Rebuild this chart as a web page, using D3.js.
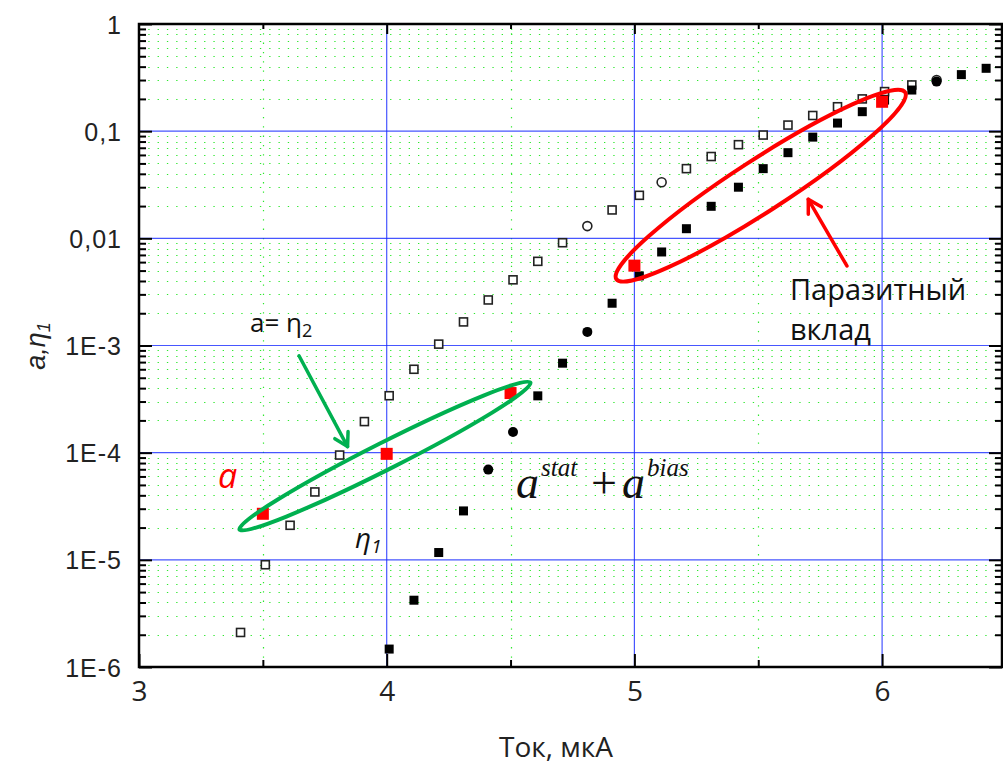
<!DOCTYPE html>
<html>
<head>
<meta charset="utf-8">
<script src="https://d3js.org/d3.v7.min.js"></script>
<style>
  body { margin: 0; background: #fff; }
  svg { display: block; }
</style>
</head>
<body>
<svg width="1003" height="770"></svg>
<script>
  // open markers (squares, a few circles)
  const openX = [3.41, 3.51, 3.61, 3.71, 3.81, 3.91, 4.01, 4.11, 4.21, 4.31, 4.41, 4.51, 4.61, 4.71, 4.81,
                 4.91, 5.02, 5.11, 5.21, 5.31, 5.42, 5.52, 5.62, 5.72, 5.82, 5.92, 6.01, 6.12, 6.22];
  const openY = [2.1e-6, 9.0e-6, 2.1e-5, 4.3e-5, 9.5e-5, 1.95e-4, 3.4e-4, 6.0e-4, 1.03e-3, 1.66e-3, 2.66e-3,
                 4.1e-3, 6.1e-3, 9.1e-3, 0.013, 0.0184, 0.0252, 0.0334, 0.0447, 0.058, 0.0748, 0.092, 0.114,
                 0.14, 0.169, 0.2, 0.234, 0.27, 0.30];
  const openShape = ["s","s","s","s","s","s","s","s","s","s","s","s","s","s","c",
                     "s","s","c","s","s","s","s","s","s","s","s","s","s","c"];

  // filled markers
  const fillX = [4.01, 4.11, 4.21, 4.31, 4.41, 4.51, 4.61, 4.71, 4.81, 4.91, 5.02, 5.11, 5.21, 5.31, 5.42,
                 5.52, 5.62, 5.72, 5.82, 5.92, 6.01, 6.12, 6.22, 6.32, 6.42];
  const fillY = [1.47e-6, 4.2e-6, 1.17e-5, 2.86e-5, 6.95e-5, 1.56e-4, 3.39e-4, 6.84e-4, 1.34e-3, 2.48e-3,
                 4.46e-3, 7.46e-3, 0.0123, 0.0199, 0.030, 0.0447, 0.063, 0.088, 0.119, 0.152, 0.195, 0.242,
                 0.290, 0.337, 0.386];
  const fillShape = ["s","s","s","s","c","c","s","s","c","s","s","s","s","s","s",
                     "s","s","s","s","s","s","s","c","s","s"];

  // red points "a"
  const redX = [3.5, 4.0, 4.5, 5.0, 6.0];
  const redY = [2.69e-5, 9.75e-5, 3.6e-4, 5.56e-3, 0.188];

  const xTicks = [3, 4, 5, 6];
  const xMinorTicks = [3.5, 4.5, 5.5];
  const yTicks = [1, 0.1, 0.01, 1e-3, 1e-4, 1e-5, 1e-6];
  const yTickLabels = ["1", "0,1", "0,01", "1E-3", "1E-4", "1E-5", "1E-6"];

  const svg = d3.select("svg");
  const pLeft = 139, pRight = 1002, pTop = 24, pBottom = 667;

  const x = d3.scaleLinear().domain([3, 3 + (1003 - pLeft) / 247.7]).range([pLeft, 1003]);
  const y = d3.scaleLog().domain([1e-6, 1]).range([pBottom, pTop]);

  const yMinor = [];
  for (let e = -6; e < 0; e++) for (let k = 2; k <= 9; k++) yMinor.push(k * Math.pow(10, e));

  // minor dotted green grid
  const grid = svg.append("g");
  grid.selectAll(".hmin").data(yMinor).enter().append("line")
    .attr("x1", pLeft).attr("x2", pRight)
    .attr("y1", d => Math.round(y(d)) + 0.5).attr("y2", d => Math.round(y(d)) + 0.5)
    .attr("stroke", "#2ee82e").attr("stroke-width", 1.2).attr("stroke-dasharray", "1.3,8");
  grid.selectAll(".vmin").data(xMinorTicks).enter().append("line")
    .attr("x1", d => Math.round(x(d)) + 0.5).attr("x2", d => Math.round(x(d)) + 0.5)
    .attr("y1", pTop).attr("y2", pBottom)
    .attr("stroke", "#2ee82e").attr("stroke-width", 1.2).attr("stroke-dasharray", "1.3,8");

  // major blue grid
  grid.selectAll(".hmaj").data(yTicks.slice(1, -1)).enter().append("line")
    .attr("x1", pLeft).attr("x2", pRight)
    .attr("y1", d => y(d)).attr("y2", d => y(d))
    .attr("stroke", "#1a2cff").attr("stroke-width", 1.2).attr("opacity", 0.8);
  grid.selectAll(".vmaj").data(xTicks.slice(1)).enter().append("line")
    .attr("x1", d => x(d)).attr("x2", d => x(d))
    .attr("y1", pTop).attr("y2", pBottom)
    .attr("stroke", "#1a2cff").attr("stroke-width", 1.2).attr("opacity", 0.8);

  // axes: ticks pointing inward
  const tickStyle = g => {
    g.select(".domain").remove();
    g.selectAll(".tick line").attr("stroke", "#000").attr("stroke-width", 2);
  };

  svg.append("g").attr("transform", `translate(0,${pBottom})`)
    .call(d3.axisBottom(x).tickValues(xTicks).tickSize(-13).tickPadding(14).tickFormat(d3.format("d")))
    .call(tickStyle)
    .call(g => g.selectAll("text").attr("font-family", "'Open Sans', sans-serif").attr("font-size", 28).attr("fill", "#222"));
  svg.append("g").attr("transform", `translate(0,${pBottom})`)
    .call(d3.axisBottom(x).tickValues(xMinorTicks).tickSize(-7).tickFormat(""))
    .call(tickStyle);
  svg.append("g").attr("transform", `translate(0,${pTop})`)
    .call(d3.axisTop(x).tickValues(xTicks.slice(1)).tickSize(-10).tickFormat(""))
    .call(tickStyle);
  svg.append("g").attr("transform", `translate(0,${pTop})`)
    .call(d3.axisTop(x).tickValues(xMinorTicks).tickSize(-5).tickFormat(""))
    .call(tickStyle);

  svg.append("g").attr("transform", `translate(${pLeft},0)`)
    .call(d3.axisLeft(y).tickValues(yTicks).tickSize(-13).tickPadding(17).tickFormat((d, i) => yTickLabels[i]))
    .call(tickStyle)
    .call(g => g.selectAll("text").attr("font-family", "'Liberation Sans', Arial, sans-serif")
      .attr("font-size", 25).attr("letter-spacing", 1).attr("fill", "#222").attr("dy", "0.36em"));
  svg.append("g").attr("transform", `translate(${pLeft},0)`)
    .call(d3.axisLeft(y).tickValues(yMinor).tickSize(-7).tickFormat(""))
    .call(tickStyle);
  svg.append("g").attr("transform", `translate(${pRight},0)`)
    .call(d3.axisRight(y).tickValues(yTicks).tickSize(-13).tickFormat(""))
    .call(tickStyle);
  svg.append("g").attr("transform", `translate(${pRight},0)`)
    .call(d3.axisRight(y).tickValues(yMinor).tickSize(-7).tickFormat(""))
    .call(tickStyle);

  // frame
  svg.append("rect").attr("x", pLeft).attr("y", pTop)
    .attr("width", pRight - pLeft).attr("height", pBottom - pTop)
    .attr("fill", "none").attr("stroke", "#000").attr("stroke-width", 2.5);

  // markers
  const openData = openX.map((v, i) => ({x: v, y: openY[i], s: openShape[i]}));
  const fillData = fillX.map((v, i) => ({x: v, y: fillY[i], s: fillShape[i]}));
  const redData = redX.map((v, i) => ({x: v, y: redY[i]}));

  const drawMarkers = (data, cls, size, fill, stroke, sw) => {
    const g = svg.append("g").attr("class", cls);
    g.selectAll("rect").data(data.filter(d => d.s === "s")).enter().append("rect")
      .attr("x", d => x(d.x) - size / 2).attr("y", d => y(d.y) - size / 2)
      .attr("width", size).attr("height", size)
      .attr("fill", fill).attr("stroke", stroke).attr("stroke-width", sw);
    g.selectAll("circle").data(data.filter(d => d.s === "c")).enter().append("circle")
      .attr("cx", d => x(d.x)).attr("cy", d => y(d.y)).attr("r", size / 2 + 0.5)
      .attr("fill", fill).attr("stroke", stroke).attr("stroke-width", sw);
  };
  drawMarkers(openData, "open", 8, "#fff", "#222", 1.6);
  drawMarkers(fillData, "filled", 9, "#000", "none", 0);

  svg.append("g").selectAll("rect").data(redData).enter().append("rect")
    .attr("x", d => x(d.x) - 6).attr("y", d => y(d.y) - 6)
    .attr("width", 12).attr("height", 12).attr("fill", "#ff0000");

  // ellipses and arrows
  const ellipse = (cx, cy, rx, ry, ang, color) => {
    svg.append("ellipse")
      .attr("cx", 0).attr("cy", 0).attr("rx", rx).attr("ry", ry)
      .attr("transform", `translate(${x(cx)},${y(cy)}) rotate(${ang})`)
      .attr("fill", "none").attr("stroke", color).attr("stroke-width", 4);
  };
  ellipse(3.993, 9.3e-5, 163, 13.5, -26.8, "#00b050");
  ellipse(5.51, 0.031, 172, 26, -32.9, "#ff0000");

  const arrow = (x0, y0, x1, y1, color) => {
    const ax = x(x0), ay = y(y0), bx = x(x1), by = y(y1);
    const ang = Math.atan2(by - ay, bx - ax);
    const len = 15, spread = Math.PI / 6;
    const g = svg.append("g").attr("stroke", color).attr("stroke-width", 3.5)
      .attr("fill", "none").attr("stroke-linecap", "round").attr("stroke-linejoin", "round");
    g.append("line").attr("x1", ax).attr("y1", ay).attr("x2", bx).attr("y2", by);
    g.append("path").attr("d",
      `M${bx - len * Math.cos(ang - spread)},${by - len * Math.sin(ang - spread)}` +
      `L${bx},${by}` +
      `L${bx - len * Math.cos(ang + spread)},${by - len * Math.sin(ang + spread)}`);
  };
  arrow(3.646, 8.03e-4, 3.842, 1.14e-4, "#00b050");
  arrow(5.858, 5.52e-3, 5.702, 0.0231, "#ff0000");

  // annotation texts
  const sans = "'Open Sans', 'Noto Sans', sans-serif";
  const t1 = svg.append("text").attr("x", x(3.448)).attr("y", y(1.345e-3))
    .attr("font-family", sans).attr("font-size", 26).attr("fill", "#111");
  t1.append("tspan").text("a= η");
  t1.append("tspan").attr("font-size", 18).attr("dy", 5).text("2");

  svg.append("text").attr("x", x(3.319)).attr("y", y(4.68e-5))
    .attr("font-family", sans).attr("font-style", "italic").attr("font-size", 34)
    .attr("fill", "#ff0000").text("a");

  const t2 = svg.append("text").attr("x", x(3.872)).attr("y", y(1.29e-5))
    .attr("font-family", sans).attr("font-style", "italic").attr("font-size", 28).attr("fill", "#111");
  t2.append("tspan").text("η");
  t2.append("tspan").attr("font-size", 19).attr("dy", 5).text("1");

  const serif = "'Liberation Serif', 'Times New Roman', serif";
  const t3 = svg.append("text").attr("x", x(4.522)).attr("y", y(3.78e-5))
    .attr("font-family", serif).attr("font-style", "italic").attr("font-size", 46).attr("fill", "#111");
  t3.append("tspan").text("a");
  t3.append("tspan").attr("font-size", 25).attr("dy", -22).attr("dx", 2).text("stat");
  t3.append("tspan").attr("font-style", "normal").attr("dy", 22).attr("dx", 14).text("+");
  t3.append("tspan").attr("dx", 5).text("a");
  t3.append("tspan").attr("font-size", 25).attr("dy", -22).attr("dx", 2).text("bias");

  svg.append("text").attr("x", x(5.628)).attr("y", y(2.66e-3))
    .attr("font-family", sans).attr("font-size", 29).attr("fill", "#111").text("Паразитный");
  svg.append("text").attr("x", x(5.628)).attr("y", y(1.125e-3))
    .attr("font-family", sans).attr("font-size", 29).attr("fill", "#111").text("вклад");

  // axis titles
  svg.append("text").attr("x", 556).attr("y", 757).attr("text-anchor", "middle")
    .attr("font-family", sans).attr("font-size", 28).attr("fill", "#222").text("Ток, мкА");

  const yt = svg.append("text").attr("transform", "translate(45,346) rotate(-90)")
    .attr("text-anchor", "middle").attr("font-family", "'Liberation Sans', Arial, sans-serif")
    .attr("font-style", "italic").attr("font-size", 27).attr("fill", "#222");
  yt.append("tspan").text("a,η");
  yt.append("tspan").attr("font-size", 18).attr("dy", 5).text("1");
</script>
</body>
</html>
